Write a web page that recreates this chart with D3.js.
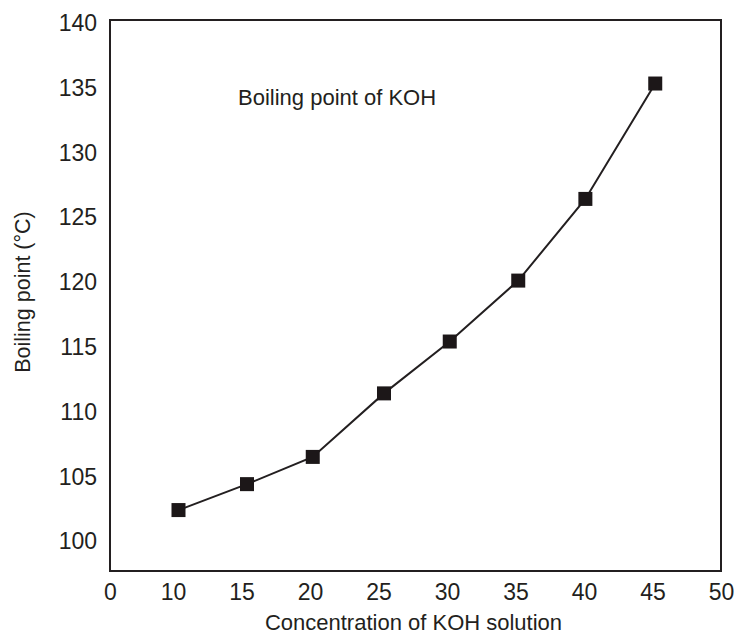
<!DOCTYPE html>
<html>
<head>
<meta charset="utf-8">
<script src="https://cdn.jsdelivr.net/npm/d3@7"></script>
<style>
  body { margin: 0; background: #fff; }
  text { font-family: "Liberation Sans", Arial, sans-serif; fill: #231f20; }
</style>
</head>
<body>
<div id="chart"></div>
<script>
// data
var concentration = [10.4, 15.4, 20.2, 25.4, 30.2, 35.2, 40.1, 45.2]
var boilingPoint  = [102.2, 104.2, 106.3, 111.2, 115.2, 119.9, 126.2, 135.1]

// axis ticks (origin of x axis is labelled "0")
var xTickValues = [5.4, 10, 15, 20, 25, 30, 35, 40, 45, 50]
var xTickLabels = ["0", "10", "15", "20", "25", "30", "35", "40", "45", "50"]
var yTickValues = [100, 105, 110, 115, 120, 125, 130, 135, 140]

var data = concentration.map(function(c, i) { return {x: c, y: boilingPoint[i]} })

// dimensions
var margin = {top: 20, right: 13, bottom: 70, left: 110},
  width = 734 - margin.left - margin.right,
  height = 641 - margin.top - margin.bottom;

var svg = d3.select("#chart")
  .append("svg")
    .attr("width", 734)
    .attr("height", 641)
  .append("g")
    .attr("transform", "translate(" + margin.left + "," + margin.top + ")");

// scales
var x = d3.scaleLinear()
  .domain([5.4, 50])
  .range([0, width])

var y = d3.scaleLinear()
  .domain([97.5, 140])
  .range([height, 0])

// axes (labels only, no tick marks)
var xAxis = svg.append("g")
  .attr("transform", "translate(0," + height + ")")
  .call(d3.axisBottom(x)
    .tickValues(xTickValues)
    .tickSize(0)
    .tickPadding(13)
    .tickFormat(function(d, i) { return xTickLabels[i] }))
xAxis.select(".domain").remove()
xAxis.selectAll("text")
  .style("font-size", "23px")

var yAxis = svg.append("g")
  .call(d3.axisLeft(y)
    .tickValues(yTickValues)
    .tickSize(0)
    .tickPadding(13))
yAxis.select(".domain").remove()
yAxis.selectAll("text")
  .style("font-size", "23px")
  .attr("dy", "0.45em")

// frame
svg.append("rect")
  .attr("x", 0)
  .attr("y", 0)
  .attr("width", width)
  .attr("height", height)
  .style("fill", "none")
  .style("stroke", "#231f20")
  .style("stroke-width", 2)

// line
var line = d3.line()
  .x(function(d) { return x(d.x) })
  .y(function(d) { return y(d.y) })

svg.append("path")
  .datum(data)
  .attr("d", line)
  .style("fill", "none")
  .style("stroke", "#231f20")
  .style("stroke-width", 2)

// square markers
svg.selectAll(".marker")
  .data(data)
  .enter()
  .append("rect")
    .attr("class", "marker")
    .attr("x", function(d) { return x(d.x) - 7 })
    .attr("y", function(d) { return y(d.y) - 7 })
    .attr("width", 14)
    .attr("height", 14)
    .style("fill", "#1c1718")

// inner title
svg.append("text")
  .attr("x", 128)
  .attr("y", 85)
  .style("font-size", "22px")
  .text("Boiling point of KOH")

// axis titles
svg.append("text")
  .attr("text-anchor", "middle")
  .attr("x", width / 2 - 2)
  .attr("y", height + 59)
  .style("font-size", "22px")
  .text("Concentration of KOH solution")

svg.append("text")
  .attr("text-anchor", "middle")
  .attr("transform", "translate(-80," + (292 - margin.top) + ") rotate(-90)")
  .style("font-size", "21.5px")
  .text("Boiling point (°C)")
</script>
</body>
</html>
